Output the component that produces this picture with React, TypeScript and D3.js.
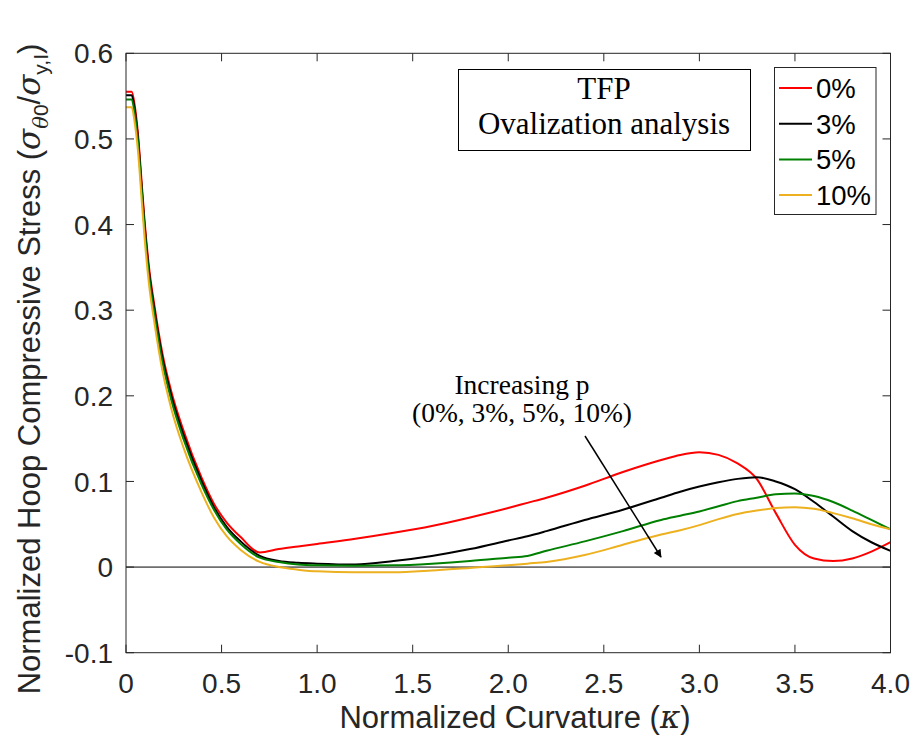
import React from "react";
import * as d3 from "d3";

const kappa = [0, 0.03, 0.045, 0.063, 0.08, 0.097, 0.12, 0.149, 0.19, 0.237, 0.3, 0.396, 0.46, 0.527, 0.6, 0.7, 0.8, 0.9, 1.0, 1.2, 1.4, 1.6, 1.8, 2.0, 2.1, 2.2, 2.4, 2.6, 2.8, 2.9, 3.0, 3.1, 3.2, 3.3, 3.4, 3.5, 3.6, 3.7, 3.8, 3.9, 4.0];

const p0 = [0.555, 0.555, 0.54, 0.505, 0.455, 0.405, 0.351, 0.305, 0.25, 0.205, 0.16, 0.104, 0.074, 0.052, 0.035, 0.017, 0.021, 0.024, 0.027, 0.033, 0.040, 0.048, 0.058, 0.069, 0.075, 0.081, 0.095, 0.111, 0.125, 0.131, 0.134, 0.131, 0.121, 0.103, 0.063, 0.026, 0.010, 0.007, 0.010, 0.018, 0.029];
const p3 = [0.551, 0.551, 0.535, 0.5, 0.45, 0.4, 0.346, 0.3, 0.245, 0.2, 0.155, 0.1, 0.07, 0.047, 0.030, 0.013, 0.007, 0.005, 0.004, 0.003, 0.007, 0.013, 0.021, 0.031, 0.036, 0.042, 0.055, 0.067, 0.081, 0.088, 0.094, 0.099, 0.103, 0.105, 0.100, 0.091, 0.076, 0.059, 0.042, 0.029, 0.019];
const p5 = [0.546, 0.546, 0.53, 0.495, 0.445, 0.395, 0.341, 0.295, 0.24, 0.195, 0.15, 0.096, 0.067, 0.044, 0.027, 0.011, 0.006, 0.003, 0.002, 0.0015, 0.002, 0.004, 0.007, 0.011, 0.013, 0.019, 0.030, 0.042, 0.055, 0.060, 0.065, 0.071, 0.077, 0.081, 0.085, 0.086, 0.083, 0.076, 0.066, 0.055, 0.044];
const p10 = [0.537, 0.537, 0.52, 0.485, 0.435, 0.385, 0.331, 0.285, 0.23, 0.185, 0.14, 0.087, 0.058, 0.036, 0.02, 0.006, 0.0, -0.003, -0.005, -0.006, -0.006, -0.004, -0.001, 0.002, 0.004, 0.006, 0.014, 0.026, 0.038, 0.043, 0.049, 0.056, 0.062, 0.066, 0.069, 0.070, 0.068, 0.063, 0.057, 0.050, 0.044];

const seriesNames = ["0%", "3%", "5%", "10%"];
const seriesColors = ["#ff0000", "#000000", "#008000", "#EDB120"];
const seriesValues = [p0, p3, p5, p10];

const xTicks = [0, 0.5, 1.0, 1.5, 2.0, 2.5, 3.0, 3.5, 4.0];
const xTickLabels = ["0", "0.5", "1.0", "1.5", "2.0", "2.5", "3.0", "3.5", "4.0"];
const yTicks = [-0.1, 0, 0.1, 0.2, 0.3, 0.4, 0.5, 0.6];
const yTickLabels = ["-0.1", "0", "0.1", "0.2", "0.3", "0.4", "0.5", "0.6"];

const W = 913;
const H = 745;
const L = 126, R = 890.5, T = 53.3, B = 652.7;
const axisColor = "#262626";
const sans = "'Liberation Sans', Arial, Helvetica, sans-serif";
const serif = "'Liberation Serif', 'DejaVu Serif', serif";
const greek = "'DejaVu Serif', serif";

export default function App() {
  const x = d3.scaleLinear().domain([0, 4]).range([L, R]);
  const y = d3.scaleLinear().domain([-0.1, 0.6]).range([B, T]);
  const line = d3
    .line<number>()
    .x((_, i) => x(kappa[i]))
    .y((d) => y(d))
    .curve(d3.curveMonotoneX);

  const tickLen = 8;
  const fs = 28;
  const lfs = 31;

  return (
    <svg width={W} height={H} style={{ position: "absolute", left: 0, top: 0, background: "#fff" }}>
      <rect x={0} y={0} width={W} height={H} fill="#fff" />
      <defs>
        <clipPath id="plot">
          <rect x={L} y={T} width={R - L} height={B - T} />
        </clipPath>
        <marker id="arrow" viewBox="0 0 10 10" refX="9" refY="5" markerWidth="11" markerHeight="8" orient="auto" markerUnits="userSpaceOnUse">
          <path d="M0,0 L10,5 L0,10 z" fill="#000" />
        </marker>
      </defs>

      <line x1={L} x2={R} y1={y(0)} y2={y(0)} stroke="#000" strokeWidth={1} />

      <g clipPath="url(#plot)">
        {seriesValues.map((vals, i) => (
          <path key={seriesNames[i]} d={line(vals) || ""} fill="none" stroke={seriesColors[i]} strokeWidth={2} />
        ))}
      </g>

      <rect x={L} y={T} width={R - L} height={B - T} fill="none" stroke={axisColor} strokeWidth={1} />

      {xTicks.map((t, i) => (
        <g key={"xt" + i}>
          <line x1={x(t)} x2={x(t)} y1={B} y2={B - tickLen} stroke={axisColor} />
          <line x1={x(t)} x2={x(t)} y1={T} y2={T + tickLen} stroke={axisColor} />
          <text x={x(t)} y={B + 40} textAnchor="middle" fontFamily={sans} fontSize={fs} fill={axisColor}>
            {xTickLabels[i]}
          </text>
        </g>
      ))}

      {yTicks.map((t, i) => (
        <g key={"yt" + i}>
          <line x1={L} x2={L + tickLen} y1={y(t)} y2={y(t)} stroke={axisColor} />
          <line x1={R} x2={R - tickLen} y1={y(t)} y2={y(t)} stroke={axisColor} />
          <text x={L - 13} y={y(t)} dy="0.36em" textAnchor="end" fontFamily={sans} fontSize={fs} fill={axisColor}>
            {yTickLabels[i]}
          </text>
        </g>
      ))}

      <text x={515} y={728} textAnchor="middle" fontFamily={sans} fontSize={lfs} fill={axisColor}>
        Normalized Curvature (<tspan fontStyle="italic" fontFamily={greek}>κ</tspan>)
      </text>

      <text transform={`translate(40, 369) rotate(-90)`} textAnchor="middle" fontFamily={sans} fontSize={lfs} fill={axisColor}>
        Normalized Hoop Compressive Stress (
        <tspan fontStyle="italic" fontFamily={greek}>σ</tspan>
        <tspan fontSize={21} dy={8} fontStyle="italic" fontFamily={greek}>θ</tspan>
        <tspan fontSize={21}>0</tspan>
        <tspan dy={-8}>/</tspan>
        <tspan fontStyle="italic" fontFamily={greek}>σ</tspan>
        <tspan fontSize={21} dy={8}>y,I</tspan>
        <tspan dy={-8}>)</tspan>
      </text>

      <rect x={458.5} y={69.5} width={292} height={81} fill="#fff" stroke="#000" strokeWidth={1} />
      <text x={604} y={99} textAnchor="middle" fontFamily={serif} fontSize={31} fill="#000">TFP</text>
      <text x={604} y={134} textAnchor="middle" fontFamily={serif} fontSize={31} fill="#000">Ovalization analysis</text>

      <rect x={774.5} y={67.5} width={101.5} height={147} fill="#fff" stroke={axisColor} strokeWidth={1} />
      {seriesNames.map((n, i) => {
        const cy = 88 + i * 35.7;
        return (
          <g key={"lg" + n}>
            <line x1={779} x2={812} y1={cy} y2={cy} stroke={seriesColors[i]} strokeWidth={2} />
            <text x={816} y={cy} dy="0.36em" fontFamily={sans} fontSize={27.5} fill="#000">{n}</text>
          </g>
        );
      })}

      <text x={522} y={394} textAnchor="middle" fontFamily={serif} fontSize={27.5} fill="#000">Increasing p</text>
      <text x={522} y={422} textAnchor="middle" fontFamily={serif} fontSize={27.5} fill="#000">(0%, 3%, 5%, 10%)</text>
      <line x1={585} y1={436} x2={661} y2={557} stroke="#000" strokeWidth={1.5} markerEnd="url(#arrow)" />
    </svg>
  );
}
